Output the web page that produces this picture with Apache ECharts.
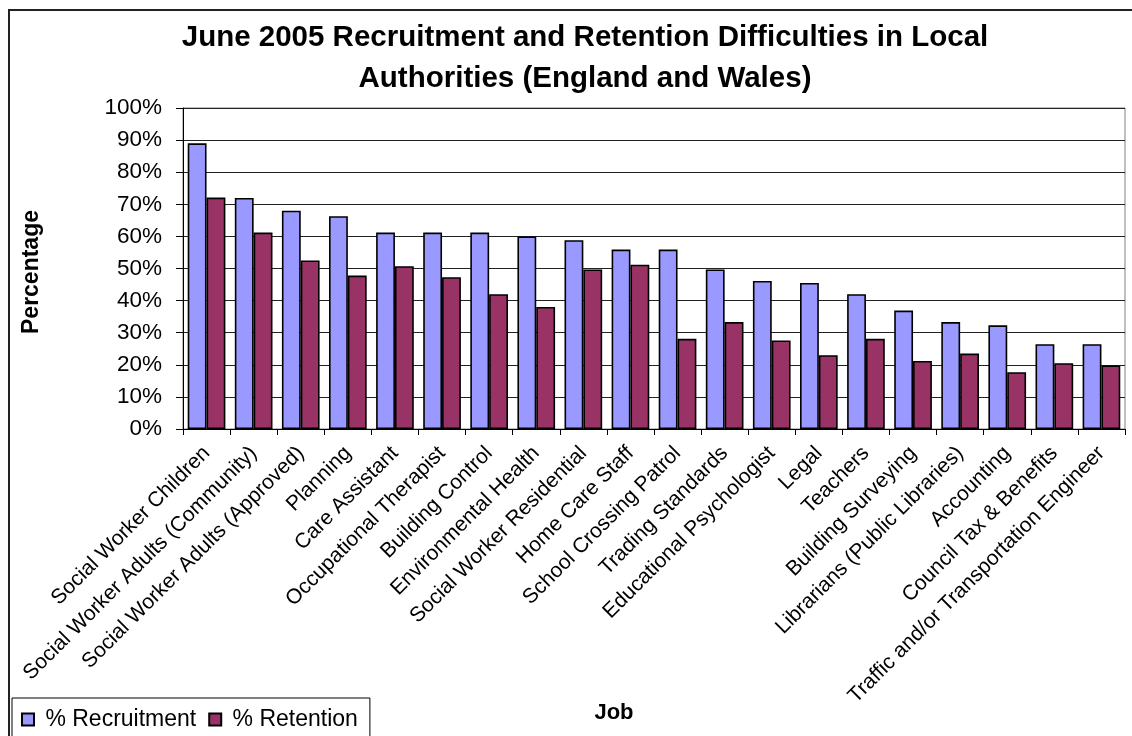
<!DOCTYPE html>
<html>
<head>
<meta charset="utf-8">
<script src="https://cdn.jsdelivr.net/npm/echarts@6/dist/echarts.min.js"></script>
<style>
  html, body { margin: 0; padding: 0; background: #fff; }
  #chart { width: 1132px; height: 736px; }
</style>
</head>
<body>
<div id="chart"></div>
<script>
// Jobs surveyed, in descending order of recruitment difficulty
const categories = [
  'Social Worker Children',
  'Social Worker Adults (Community)',
  'Social Worker Adults (Approved)',
  'Planning',
  'Care Assistant',
  'Occupational Therapist',
  'Building Control',
  'Environmental Health',
  'Social Worker Residential',
  'Home Care Staff',
  'School Crossing Patrol',
  'Trading Standards',
  'Educational Psychologist',
  'Legal',
  'Teachers',
  'Building Surveying',
  'Librarians (Public Libraries)',
  'Accounting',
  'Council Tax & Benefits',
  'Traffic and/or Transportation Engineer'
];

// Share of authorities reporting difficulties (%)
const recruitment = [89, 72, 68, 66.3, 61.2, 61.2, 61.2, 60, 58.8, 55.9,
                     55.9, 49.7, 46.1, 45.5, 42, 36.9, 33.3, 32.3, 26.4, 26.4];
const retention   = [72.1, 61.2, 52.5, 47.8, 50.7, 47.3, 42, 38, 49.7, 51.2,
                     28.1, 33.3, 27.6, 23, 28.1, 21.2, 23.5, 17.7, 20.5, 19.8];

const seriesNames = ['% Recruitment', '% Retention'];
const yTicks = { min: 0, max: 100, step: 10 };

const FONT = '"Liberation Sans", Arial, Helvetica, sans-serif';

const chart = echarts.init(document.getElementById('chart'), null, { renderer: 'canvas' });

chart.setOption({
  animation: false,
  backgroundColor: '#ffffff',
  textStyle: { fontFamily: FONT, color: '#000' },
  title: {
    text: 'June 2005 Recruitment and Retention Difficulties in Local\nAuthorities (England and Wales)',
    left: 580,
    top: 12,
    textAlign: 'center',
    textStyle: { fontFamily: FONT, fontSize: 29.5, fontWeight: 'bold', color: '#000', lineHeight: 41 }
  },
  legend: {
    data: seriesNames,
    left: 12,
    top: 698,
    orient: 'horizontal',
    icon: 'rect',
    itemWidth: 12,
    itemHeight: 12,
    itemGap: 12,
    padding: [10, 12, 20, 9],
    borderColor: '#000',
    borderWidth: 1,
    backgroundColor: '#fff',
    formatter: name => '\u00a0' + name,
    textStyle: { fontFamily: FONT, fontSize: 23, color: '#000' }
  },
  grid: {
    left: 183,
    right: 7,
    top: 108,
    bottom: 307,
    show: true,
    borderColor: '#808080',
    borderWidth: 1,
    backgroundColor: 'transparent'
  },
  xAxis: {
    type: 'category',
    data: categories,
    axisLine: { lineStyle: { color: '#000', width: 1 } },
    axisTick: { show: true, length: 6, lineStyle: { color: '#000' } },
    axisLabel: {
      interval: 0,
      rotate: 45,
      margin: 21,
      fontFamily: FONT,
      fontSize: 21,
      color: '#000'
    },
    splitLine: { show: false }
  },
  yAxis: {
    type: 'value',
    min: yTicks.min,
    max: yTicks.max,
    interval: yTicks.step,
    axisLine: { show: true, lineStyle: { color: '#000', width: 1 } },
    axisTick: { show: true, length: 7, lineStyle: { color: '#000' } },
    axisLabel: {
      formatter: '{value}%',
      margin: 21,
      fontFamily: FONT,
      fontSize: 22.5,
      color: '#000'
    },
    splitLine: { show: true, lineStyle: { color: '#222', width: 1 } }
  },
  series: [
    {
      name: seriesNames[0],
      type: 'bar',
      data: recruitment,
      barGap: '0%',
      barCategoryGap: '20%',
      itemStyle: { color: '#9999FF', borderColor: '#000', borderWidth: 1.6 }
    },
    {
      name: seriesNames[1],
      type: 'bar',
      data: retention,
      itemStyle: { color: '#993366', borderColor: '#000', borderWidth: 1.6 }
    }
  ],
  graphic: [
    {
      type: 'rect',
      silent: true,
      z: -10,
      shape: { x: 9, y: 10, width: 1300, height: 900 },
      style: { fill: 'none', stroke: '#222', lineWidth: 2 }
    },
    {
      type: 'text',
      silent: true,
      x: 32,
      y: 272,
      rotation: Math.PI / 2,
      style: {
        text: 'Percentage',
        fontFamily: FONT,
        fontSize: 23,
        fontWeight: 'bold',
        fill: '#000',
        align: 'center',
        verticalAlign: 'middle'
      }
    },
    {
      type: 'text',
      silent: true,
      x: 614,
      y: 713,
      style: {
        text: 'Job',
        fontFamily: FONT,
        fontSize: 22,
        fontWeight: 'bold',
        fill: '#000',
        align: 'center',
        verticalAlign: 'middle'
      }
    }
  ]
});
</script>
</body>
</html>
